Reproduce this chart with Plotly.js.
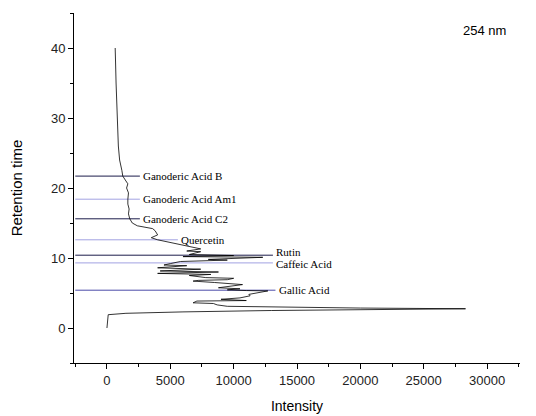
<!DOCTYPE html>
<html>
<head>
<meta charset="utf-8">
<script src="https://cdn.plot.ly/plotly-3.0.1.min.js"></script>
<style>html,body{margin:0;padding:0;background:#fff;}#chart{width:536px;height:416px;}</style>
</head>
<body>
<div id="chart"></div>
<script>
// Chromatogram trace (retention time vs intensity)
const retention = [0.0, 1.9, 2.1, 2.3, 2.5, 2.65, 2.75, 2.85, 2.95, 3.1, 3.3, 3.5, 3.6,
  3.85, 3.92, 4.0, 4.1, 4.3, 4.6, 4.8, 5.0, 5.3, 5.35, 5.45, 5.6, 5.75, 6.2, 6.35, 6.5, 6.7, 6.8,
  6.9, 7.1, 7.2, 7.5, 7.65, 7.8, 8.0, 8.15, 8.4, 8.6, 8.9, 9.0, 9.2, 9.5, 9.7, 9.8, 10.1, 10.2,
  10.35, 10.5, 10.9, 11.0, 11.3,
  11.8, 12.2, 12.6, 12.9, 13.3, 13.9, 14.2, 14.6, 15.0, 15.6, 16.3, 17.0, 17.7, 18.4, 19.3, 20.0,
  20.6, 21.0, 21.7, 22.5, 24.0, 26.0, 28.0, 30.0, 32.0, 35.0, 38.0, 40.0];
const intensity = [0, 100, 1500, 6000, 13000, 21000, 28300, 20000, 15500, 9500, 8700, 8400, 6800,
  7100, 11000, 9500, 9000, 10500, 11300, 11200, 11800, 12700, 11000, 9500, 10500, 8800, 10700, 9000, 8500, 6800, 7200,
  9500, 10000, 7800, 6500, 8200, 4000, 8800, 4200, 7400, 4000, 6300, 4500, 5000, 5800, 9500, 8000, 12300, 6000,
  10000, 6500, 7400, 6300, 7400,
  6000, 5000, 4000, 3500, 4000, 3800, 3600, 2400, 2000, 1800, 1700, 1750, 1650, 1650, 1700, 1550,
  1650, 1500, 1250, 1180, 1000, 900, 850, 790, 760, 720, 680, 650];

// Identified compounds
const compounds = ["Ganoderic Acid B", "Ganoderic Acid Am1", "Ganoderic Acid C2", "Quercetin", "Rutin", "Caffeic Acid", "Gallic Acid"];
const compoundTimes = [21.7, 18.4, 15.6, 12.6, 10.4, 9.3, 5.4];
const lineEnds = [2600, 2600, 2600, 5600, 13100, 13100, 13300];
const lineColors = ["#1c1c4a", "#a2a2e2", "#1c1c4a", "#a2a2e2", "#1c1c4a", "#a2a2e2", "#4a4aa8"];
const labelShift = [0, 0, 0, 0, 0.4, -0.2, 0];

const xTicks = [0, 5000, 10000, 15000, 20000, 25000, 30000];
const yTicks = [0, 10, 20, 30, 40];
const xStart = -2500;

const traces = [];
compounds.forEach((c, i) => {
  traces.push({
    x: [xStart, lineEnds[i]], y: [compoundTimes[i], compoundTimes[i]],
    mode: 'lines', line: {color: lineColors[i], width: 1}, hoverinfo: 'skip', showlegend: false
  });
});
traces.push({
  x: intensity, y: retention, mode: 'lines',
  line: {color: '#000', width: 0.8}, showlegend: false
});

const annotations = compounds.map((c, i) => ({
  x: lineEnds[i] + 100, y: compoundTimes[i] + labelShift[i], xref: 'x', yref: 'y',
  text: c, showarrow: false, xanchor: 'left', yanchor: 'middle',
  font: {family: 'Liberation Serif, Times New Roman, serif', size: 11, color: '#000'}
}));
annotations.push({
  x: 0.92, y: 0.95, xref: 'paper', yref: 'paper', text: '254 nm', showarrow: false,
  xanchor: 'center', yanchor: 'middle',
  font: {family: 'Liberation Sans, Arial, sans-serif', size: 13, color: '#000'}
});

const axisFont = {family: 'Liberation Sans, Arial, sans-serif', size: 13, color: '#222'};
const layout = {
  width: 536, height: 416,
  margin: {l: 74, r: 16, t: 13, b: 53},
  paper_bgcolor: '#fff', plot_bgcolor: '#fff',
  showlegend: false,
  xaxis: {
    range: [-2600, 32600], tickvals: xTicks, ticktext: xTicks.map(String),
    showgrid: false, zeroline: false, showline: true, linecolor: '#000', linewidth: 1,
    ticks: 'outside', ticklen: 5, tickcolor: '#000', tickfont: axisFont,
    minor: {ticks: 'outside', ticklen: 3, tick0: -2500, dtick: 5000, tickcolor: '#000', showgrid: false},
    title: {text: 'Intensity', font: {family: 'Liberation Sans, Arial, sans-serif', size: 14, color: '#000'}, standoff: 14}
  },
  yaxis: {
    range: [-5, 45], tickvals: yTicks, ticktext: yTicks.map(String),
    showgrid: false, zeroline: false, showline: true, linecolor: '#000', linewidth: 1,
    ticks: 'outside', ticklen: 5, tickcolor: '#000', tickfont: axisFont,
    minor: {ticks: 'outside', ticklen: 3, tick0: -5, dtick: 10, tickcolor: '#000', showgrid: false},
    title: {text: 'Retention time', font: {family: 'Liberation Sans, Arial, sans-serif', size: 15, color: '#000'}, standoff: 24}
  },
  annotations: annotations
};
Plotly.newPlot('chart', traces, layout, {displayModeBar: false, staticPlot: true});
</script>
</body>
</html>
